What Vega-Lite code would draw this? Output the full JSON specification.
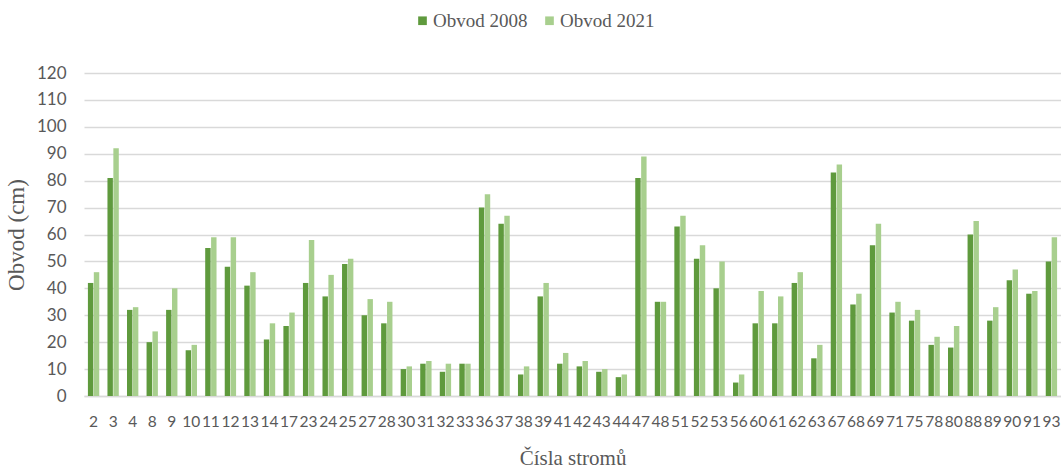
{
  "$schema": "https://vega.github.io/schema/vega-lite/v6.json",
  "width": 977,
  "height": 323,
  "autosize": {"type": "none"},
  "padding": {"left": 84, "top": 73, "right": 0, "bottom": 74},
  "background": "white",
  "datasets": {
    "trees": [
      {"strom": 2, "a": 42, "b": 46},
      {"strom": 3, "a": 81, "b": 92},
      {"strom": 4, "a": 32, "b": 33},
      {"strom": 8, "a": 20, "b": 24},
      {"strom": 9, "a": 32, "b": 40},
      {"strom": 10, "a": 17, "b": 19},
      {"strom": 11, "a": 55, "b": 59},
      {"strom": 12, "a": 48, "b": 59},
      {"strom": 13, "a": 41, "b": 46},
      {"strom": 14, "a": 21, "b": 27},
      {"strom": 17, "a": 26, "b": 31},
      {"strom": 23, "a": 42, "b": 58},
      {"strom": 24, "a": 37, "b": 45},
      {"strom": 25, "a": 49, "b": 51},
      {"strom": 27, "a": 30, "b": 36},
      {"strom": 28, "a": 27, "b": 35},
      {"strom": 30, "a": 10, "b": 11},
      {"strom": 31, "a": 12, "b": 13},
      {"strom": 32, "a": 9, "b": 12},
      {"strom": 33, "a": 12, "b": 12},
      {"strom": 36, "a": 70, "b": 75},
      {"strom": 37, "a": 64, "b": 67},
      {"strom": 38, "a": 8, "b": 11},
      {"strom": 39, "a": 37, "b": 42},
      {"strom": 41, "a": 12, "b": 16},
      {"strom": 42, "a": 11, "b": 13},
      {"strom": 43, "a": 9, "b": 10},
      {"strom": 44, "a": 7, "b": 8},
      {"strom": 47, "a": 81, "b": 89},
      {"strom": 48, "a": 35, "b": 35},
      {"strom": 51, "a": 63, "b": 67},
      {"strom": 52, "a": 51, "b": 56},
      {"strom": 53, "a": 40, "b": 50},
      {"strom": 56, "a": 5, "b": 8},
      {"strom": 60, "a": 27, "b": 39},
      {"strom": 61, "a": 27, "b": 37},
      {"strom": 62, "a": 42, "b": 46},
      {"strom": 63, "a": 14, "b": 19},
      {"strom": 67, "a": 83, "b": 86},
      {"strom": 68, "a": 34, "b": 38},
      {"strom": 69, "a": 56, "b": 64},
      {"strom": 71, "a": 31, "b": 35},
      {"strom": 75, "a": 28, "b": 32},
      {"strom": 78, "a": 19, "b": 22},
      {"strom": 80, "a": 18, "b": 26},
      {"strom": 88, "a": 60, "b": 65},
      {"strom": 89, "a": 28, "b": 33},
      {"strom": 90, "a": 43, "b": 47},
      {"strom": 91, "a": 38, "b": 39},
      {"strom": 93, "a": 50, "b": 59}
    ]
  },
  "data": {"name": "trees"},
  "transform": [
    {"fold": ["a", "b"], "as": ["key", "obvod"]},
    {"calculate": "datum.key === 'a' ? 'Obvod 2008' : 'Obvod 2021'", "as": "rada"}
  ],
  "mark": {"type": "bar"},
  "encoding": {
    "x": {
      "field": "strom",
      "type": "ordinal",
      "sort": "ascending",
      "scale": {"paddingInner": 0.42, "paddingOuter": 0.2},
      "axis": {
        "title": "Čísla stromů",
        "titleFont": "Liberation Serif",
        "titleFontSize": 21,
        "titleFontWeight": "normal",
        "titleColor": "#595959",
        "titlePadding": 18,
        "labelFont": "Lato",
        "labelFontSize": 15.5,
        "labelColor": "#595959",
        "labelAngle": 0,
        "labelPadding": 18,
        "ticks": false,
        "domain": true,
        "domainColor": "#d9d9d9",
        "domainWidth": 1.5
      }
    },
    "xOffset": {"field": "rada", "type": "nominal", "scale": {"paddingInner": 0.08}},
    "y": {
      "field": "obvod",
      "type": "quantitative",
      "scale": {"domain": [0, 120]},
      "axis": {
        "title": "Obvod (cm)",
        "titleFont": "Liberation Serif",
        "titleFontSize": 23,
        "titleFontWeight": "normal",
        "titleColor": "#595959",
        "titlePadding": 8,
        "values": [0, 10, 20, 30, 40, 50, 60, 70, 80, 90, 100, 110, 120],
        "labelFont": "Lato",
        "labelFontSize": 17,
        "labelColor": "#595959",
        "labelPadding": 18,
        "ticks": false,
        "domain": false,
        "grid": true,
        "gridColor": "#d9d9d9",
        "gridWidth": 1.5
      }
    },
    "color": {
      "field": "rada",
      "type": "nominal",
      "scale": {"domain": ["Obvod 2008", "Obvod 2021"], "range": ["#5f9a3d", "#a8cf8e"]},
      "legend": {
        "title": null,
        "orient": "none",
        "direction": "horizontal",
        "legendX": 329,
        "legendY": -62,
        "symbolType": "square",
        "symbolSize": 75,
        "symbolStrokeWidth": 0,
        "labelFont": "Liberation Serif",
        "labelFontSize": 19,
        "labelColor": "#595959",
        "labelOffset": 1,
        "columnPadding": 12
      }
    }
  },
  "config": {"view": {"stroke": null}}
}
